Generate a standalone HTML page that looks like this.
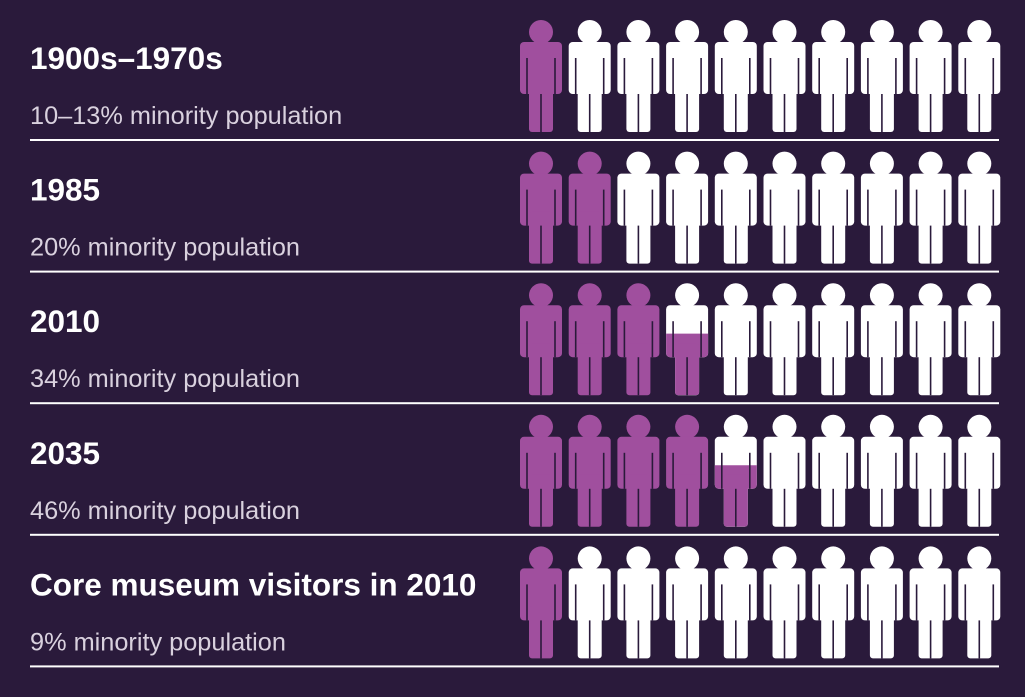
<!DOCTYPE html>
<html><head><meta charset="utf-8"><style>
html,body{margin:0;padding:0;background:#2a1a3b;}
svg{display:block;}
</style></head><body>
<svg id="chart" width="1025" height="697" xmlns="http://www.w3.org/2000/svg">
<rect width="1025" height="697" fill="#2a1a3b"/>
<defs>
<g id="person">
<circle cx="0" cy="12" r="12"/>
<rect x="-21" y="22" width="42" height="52" rx="4"/>
<rect x="-12" y="60" width="24" height="52" rx="3"/>
</g>
</defs>
</svg>
<script>
const titles = ["1900s–1970s","1985","2010","2035","Core museum visitors in 2010"];
const subtitles = ["10–13% minority population","20% minority population","34% minority population","46% minority population","9% minority population"];
const fullCounts = [1,2,3,4,1];
const partialFills = [0,0,0.55,0.55,0];
const totalFigures = 10;

const svg = document.getElementById('chart');
const NS = 'http://www.w3.org/2000/svg';
const PURPLE = '#a04f9e', BG = '#2a1a3b';
const rowTop = i => 20 + i*131.6;
const figX = j => 541 + j*48.7;
function mk(tag, attrs){const e=document.createElementNS(NS,tag);for(const k in attrs)e.setAttribute(k,attrs[k]);svg.appendChild(e);return e;}
function person(cx, y0, color, clipId){
  const u = mk('use',{href:'#person',transform:`translate(${cx},${y0})`,fill:color});
  if(clipId) u.setAttribute('clip-path',`url(#${clipId})`);
  return u;
}
function gaps(cx,y0){
  [[-14,38,74],[14,38,74],[0,74,112]].forEach(g=>{
    const l=mk('line',{x1:cx+g[0],x2:cx+g[0],y1:y0+g[1],y2:y0+g[2],stroke:BG,'stroke-width':1.6});
    
    
  });
}
titles.forEach((t,i)=>{
  const y0 = rowTop(i);
  const title = mk('text',{x:30,y:y0+49,fill:'#ffffff','font-family':'Liberation Sans, sans-serif','font-weight':'bold','font-size':31.5});
  title.textContent = t;
  
  
  const sub = mk('text',{x:30,y:y0+104,fill:'#d9d1de','font-family':'Liberation Sans, sans-serif','font-size':25.3});
  sub.textContent = subtitles[i];
  
  
  const line = mk('rect',{x:30,y:y0+119,width:969,height:2,fill:'#ffffff'});
  
  
  for(let j=0;j<totalFigures;j++){
    const cx = figX(j);
    let color = j < fullCounts[i] ? PURPLE : '#ffffff';
    const p = person(cx,y0,color);
    
    
    if(j === fullCounts[i] && partialFills[i] > 0){
      const id = 'clip'+i;
      const cp = mk('clipPath',{id:id});
      const h = partialFills[i]*112;
      const r = document.createElementNS(NS,'rect');
      r.setAttribute('x',-25);r.setAttribute('y',112-h);r.setAttribute('width',50);r.setAttribute('height',h);
      cp.appendChild(r);
      const pp = person(cx,y0,PURPLE,id);
      
      
    }
    gaps(cx,y0);
  }
});
</script>
</body></html>
